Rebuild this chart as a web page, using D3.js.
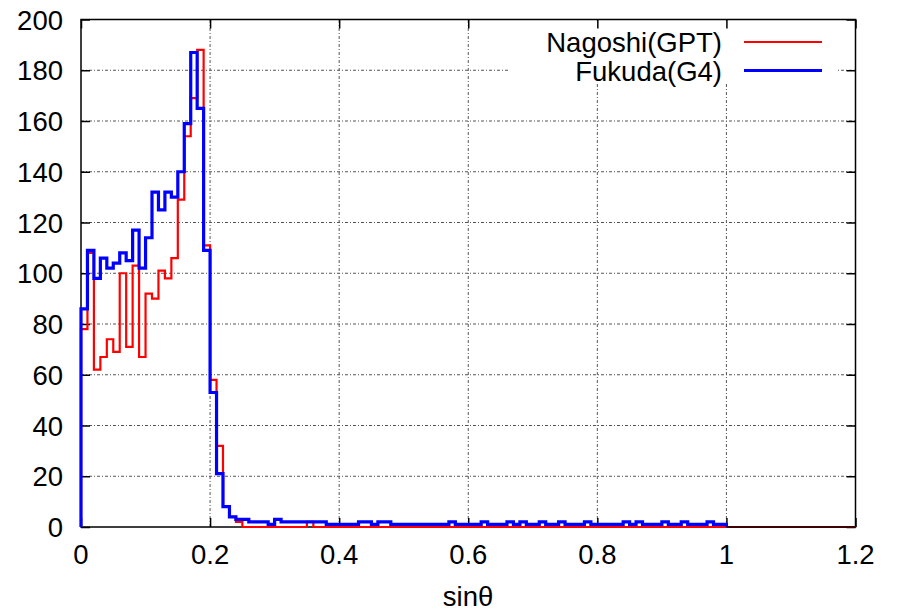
<!DOCTYPE html>
<html>
<head>
<meta charset="utf-8">
<script src="https://cdn.jsdelivr.net/npm/d3@7"></script>
<style>
  html, body { margin: 0; padding: 0; background: #fff; }
  svg { display: block; }
  text { font-family: "Liberation Sans", Arial, sans-serif; fill: #000; }
</style>
</head>
<body>
<svg id="chart" width="897" height="612"></svg>
<script>
// Histogram of sinθ, bin width 0.01
const binWidth = 0.01;

// Nagoshi (GPT): counts per bin from 0 to 1.2
const nagoshi = [
  78, 108, 62, 67, 74, 69, 100, 71, 103, 67,
  92, 90, 101, 98, 106, 129, 154, 169, 188, 111,
  58, 32, 8, 4, 2, 0, 0, 0, 0, 0,
  0, 0, 0, 0, 0, 2, 0, 0, 0, 0,
  0, 0, 0, 0, 0, 0, 0, 0, 0, 0,
  0, 0, 0, 0, 0, 0, 0, 0, 0, 0,
  0, 0, 0, 0, 0, 0, 0, 0, 0, 0,
  0, 0, 0, 0, 0, 0, 0, 0, 0, 0,
  0, 0, 0, 0, 0, 0, 0, 0, 0, 0,
  0, 0, 0, 0, 0, 0, 0, 0, 0, 0,
  0, 0, 0, 0, 0, 0, 0, 0, 0, 0,
  0, 0, 0, 0, 0, 0, 0, 0, 0, 0
];

// Fukuda (G4): counts per bin from 0 to 1.0
const fukuda = [
  86, 109, 98, 106, 102, 104, 108, 105, 117, 102,
  114, 132, 125, 132, 130, 140, 159, 187, 165, 109,
  53, 21, 8, 4, 3, 3, 2, 2, 2, 1,
  3, 2, 2, 2, 2, 2, 2, 2, 1, 1,
  1, 1, 1, 2, 2, 1, 2, 2, 1, 1,
  1, 1, 1, 1, 1, 1, 1, 2, 1, 1,
  1, 1, 2, 1, 1, 1, 2, 1, 2, 1,
  1, 2, 1, 1, 2, 1, 1, 1, 2, 1,
  1, 1, 1, 1, 2, 1, 2, 1, 1, 1,
  2, 1, 1, 2, 1, 1, 1, 2, 1, 1
];

const xTicks = [0, 0.2, 0.4, 0.6, 0.8, 1.0, 1.2];
const yTicks = [0, 20, 40, 60, 80, 100, 120, 140, 160, 180, 200];
const seriesNames = ["Nagoshi(GPT)", "Fukuda(G4)"];
const seriesColors = ["#ff0000", "#0000ff"];
const seriesWidths = [2.2, 3.2];
const xLabel = "sinθ";

const plotL = 81, plotR = 855.5, plotT = 19.5, plotB = 527;
const x = d3.scaleLinear().domain([0, 1.2]).range([plotL, plotR]);
const y = d3.scaleLinear().domain([0, 200]).range([plotB, plotT]);
const svg = d3.select("#chart");
const FONT = 27.5;
const tickLen = 9;

// Grid
const grid = svg.append("g")
  .attr("stroke", "#555").attr("stroke-width", 1)
  .attr("stroke-dasharray", "3,2,1,2").attr("fill", "none");
yTicks.slice(1, -1).forEach(v => {
  grid.append("line").attr("x1", plotL).attr("x2", plotR)
    .attr("y1", y(v)).attr("y2", y(v));
});
xTicks.slice(1, -1).forEach(v => {
  grid.append("line").attr("x1", x(v)).attr("x2", x(v))
    .attr("y1", plotB).attr("y2", plotT);
});

// Legend background
svg.append("rect").attr("x", 510).attr("y", 21).attr("width", 328).attr("height", 62)
  .attr("fill", "#fff");

// Axes: ticks on all four sides, labels on left and bottom
const axL = svg.append("g").attr("transform", `translate(${plotL},0)`)
  .call(d3.axisRight(y).tickValues(yTicks).tickSize(tickLen).tickFormat(""));
const axR = svg.append("g").attr("transform", `translate(${plotR},0)`)
  .call(d3.axisLeft(y).tickValues(yTicks).tickSize(tickLen).tickFormat(""));
const axB = svg.append("g").attr("transform", `translate(0,${plotB})`)
  .call(d3.axisTop(x).tickValues(xTicks).tickSize(tickLen).tickFormat(""));
const axT = svg.append("g").attr("transform", `translate(0,${plotT})`)
  .call(d3.axisBottom(x).tickValues(xTicks).tickSize(tickLen).tickFormat(""));
[axL, axR, axB, axT].forEach(a => {
  a.select(".domain").remove();
  a.selectAll("line").attr("stroke", "#000").attr("stroke-width", 1.5);
});

// Frame
svg.append("rect").attr("x", plotL).attr("y", plotT)
  .attr("width", plotR - plotL).attr("height", plotB - plotT)
  .attr("fill", "none").attr("stroke", "#000").attr("stroke-width", 1.5);

// Tick labels
svg.append("g").selectAll("text").data(yTicks).join("text")
  .attr("x", 63).attr("y", d => y(d) + 10)
  .attr("text-anchor", "end").attr("font-size", FONT)
  .text(d => d3.format("d")(d));
svg.append("g").selectAll("text").data(xTicks).join("text")
  .attr("x", d => x(d)).attr("y", 564)
  .attr("text-anchor", "middle").attr("font-size", FONT)
  .text(d => d3.format("~g")(d));

svg.append("text").attr("x", 468).attr("y", 606)
  .attr("text-anchor", "middle").attr("font-size", FONT).text(xLabel);

// Step outline of a histogram
function stepPoints(counts) {
  const pts = [[0, 0]];
  counts.forEach((c, i) => {
    pts.push([i * binWidth, c]);
    pts.push([(i + 1) * binWidth, c]);
  });
  pts.push([counts.length * binWidth, 0]);
  return pts;
}
const line = d3.line().x(d => x(d[0])).y(d => y(d[1]));

[nagoshi, fukuda].forEach((counts, i) => {
  svg.append("path").datum(stepPoints(counts))
    .attr("d", line).attr("fill", "none")
    .attr("stroke", seriesColors[i]).attr("stroke-width", seriesWidths[i])
    .attr("stroke-linejoin", "miter");
});

// Bottom frame edge over the zero-level trace
svg.append("line").attr("x1", x(binWidth * fukuda.length)).attr("x2", plotR)
  .attr("y1", plotB).attr("y2", plotB)
  .attr("stroke", "#000").attr("stroke-width", 1.5);

// Legend
const legend = svg.append("g");
seriesNames.forEach((name, i) => {
  const cy = 42 + i * 28.5;
  legend.append("text").attr("x", 722).attr("y", cy + 10)
    .attr("text-anchor", "end").attr("font-size", FONT).text(name);
  legend.append("line").attr("x1", 744).attr("x2", 822)
    .attr("y1", cy).attr("y2", cy)
    .attr("stroke", seriesColors[i]).attr("stroke-width", seriesWidths[i]);
});
</script>
</body>
</html>
